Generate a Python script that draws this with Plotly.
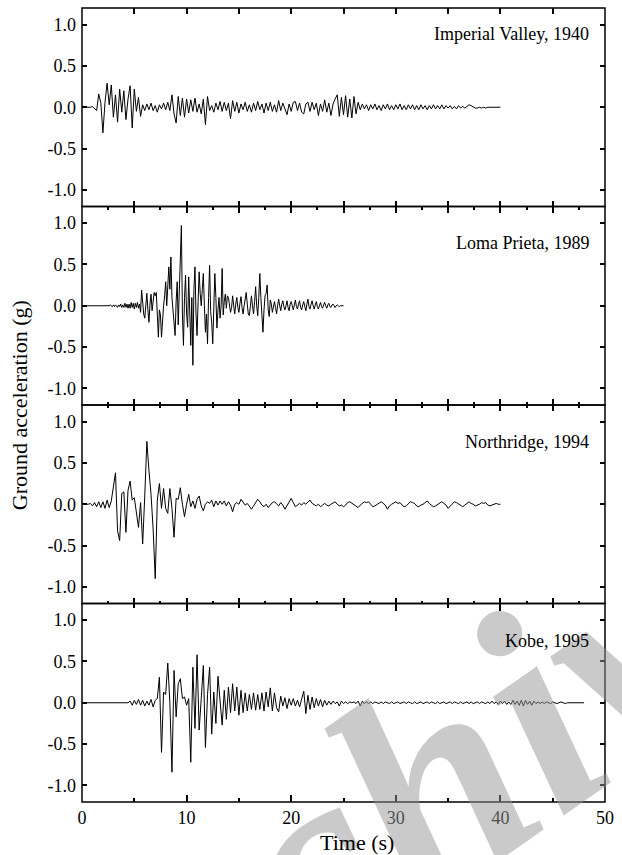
import numpy as np
import plotly.graph_objects as go
from plotly.subplots import make_subplots

# Ground-motion records (acceleration in g), uniformly sampled
IV_DT = 0.2
IV_ACC = [
    0, 0, 0, 0, 0, 0.01, -0.01, -0.04, 0.16, 0.05,
    -0.31, 0.06, 0.29, 0.03, 0.27, -0.12, 0.15, -0.18, 0.22, -0.06,
    0.2, -0.15, 0.1, 0.26, -0.25, 0.22, -0.05, 0.12, -0.11, 0.03,
    -0.04, 0.04, -0.03, 0.05, -0.04, 0.02, -0.06, 0.03, -0.02, 0.05,
    -0.03, 0.06, -0.04, 0.15, -0.08, -0.19, 0.13, -0.1, 0.11, -0.12,
    0.1, -0.07, 0.09, -0.05, 0.11, -0.06, 0.04, -0.08, 0.1, -0.21,
    0.13, -0.04, 0.02, -0.06, 0.05, -0.03, 0.07, -0.05, 0.06, -0.04,
    0.05, -0.14, 0.08, -0.05, 0.06, -0.07, 0.04, -0.03, 0.06, -0.05,
    0.03, -0.06, 0.05, -0.04, 0.07, -0.03, 0.04, -0.07, 0.05, -0.04,
    0.06, -0.05, 0.03, -0.06, 0.08, -0.04, 0.05, -0.03, -0.09, 0.04,
    -0.05, 0.06, 0.07, -0.04, 0.05, -0.06, -0.08, 0.04, 0.06, -0.05,
    0.06, -0.03, 0.05, -0.1, 0.04, -0.05, 0.09, -0.06, 0.05, -0.1,
    0.04, 0.1, 0.15, -0.11, 0.12, -0.09, 0.14, -0.12, 0.1, -0.13,
    0.13, -0.08, 0.06, -0.03, 0.04, -0.02, 0.03, -0.04, 0.03, -0.02,
    0.04, -0.03, 0.02, -0.04, 0.03, -0.02, 0.04, -0.03, 0.02, -0.03,
    0.03, -0.02, 0.04, -0.03, 0.02, -0.03, 0.03, -0.02, 0.03, -0.03,
    0.02, -0.03, 0.03, -0.02, 0.02, -0.03, 0.02, -0.02, 0.03, -0.02,
    0.02, -0.02, 0.03, -0.02, 0.02, -0.01, 0.02, -0.02, 0.01, -0.02,
    0.02, -0.01, 0.01, -0.01, 0.01, 0.03, 0.02, 0.0, -0.01, -0.01,
    0.0, -0.01, 0.0, -0.01, 0.0, 0.0, 0.0, 0.0, 0.0, 0.0,
    0.0,
]

LP_DT = 0.1
LP_ACC = [
    0, 0, 0, 0, 0, 0, 0, 0, 0, 0,
    0, 0, 0, 0, 0, 0, 0, 0, 0, 0,
    0, 0, 0, 0, 0, 0, 0, 0.01, 0, -0.01,
    0.01, -0.01, 0.01, 0, -0.02, 0.01, -0.01, 0.02, -0.02, 0.01,
    -0.02, 0.03, -0.02, 0.02, -0.03, 0.02, -0.03, 0.04, -0.02, 0.03,
    -0.04, 0.03, -0.02, 0.04, -0.03, 0.02, -0.08, 0.19, 0.02, -0.1,
    -0.15, 0.06, 0.15, -0.05, -0.2, 0.02, 0.14, -0.06, 0.05, 0.16,
    0.12, 0.16, -0.1, -0.38, -0.05, -0.11, -0.38, -0.1, 0.0, 0.12,
    0.29, 0.0, 0.2, 0.47, 0.2, 0.59, 0.1, -0.05, -0.25, -0.36,
    0.05, 0.29, -0.23, 0.2, 0.6, 0.97, -0.1, -0.48, 0.1, 0.37,
    -0.1, -0.26, 0.35, -0.1, -0.48, 0.1, -0.72, 0.2, 0.47, -0.1,
    -0.36, 0.05, 0.41, 0.15, 0.0, 0.2, 0.39, 0.0, -0.32, -0.1,
    -0.46, 0.1, 0.49, -0.07, -0.2, -0.46, 0.0, 0.39, 0.1, -0.27,
    -0.05, 0.1, -0.15, 0.0, 0.45, -0.11, 0.05, 0.14, -0.03, 0.12,
    0.1, 0.02, -0.08, -0.02, 0.12, 0.0, -0.1, 0.02, 0.1, -0.02,
    -0.08, 0.03, 0.11, -0.02, -0.1, 0.0, 0.08, 0.16, 0.02, -0.1,
    -0.12, 0.0, 0.12, 0.0, -0.1, 0.05, 0.23, 0.0, -0.12, 0.1,
    0.39, 0.1, -0.15, -0.32, -0.05, 0.12, 0.15, 0.25, -0.05, -0.13,
    0.07, 0.02, -0.08, 0.0, 0.05, -0.02, -0.1, 0.0, 0.08, 0.0,
    -0.06, 0.02, 0.06, -0.01, -0.05, 0.0, 0.06, -0.02, -0.06, 0.02,
    0.05, 0.0, -0.05, 0.01, 0.07, -0.01, -0.04, 0.02, 0.06, -0.02,
    -0.05, 0.01, 0.05, -0.01, -0.06, 0.02, 0.08, -0.01, -0.04, 0.02,
    0.06, 0.0, -0.04, 0.01, 0.05, -0.01, -0.04, 0.0, 0.04, -0.01,
    -0.03, 0.01, 0.04, 0.0, -0.03, 0.01, 0.03, -0.01, -0.02, 0.01,
    0.02, 0.0, -0.02, 0.0, 0.01, 0.0, -0.01, 0.0, 0.0, 0.0,
    0.0,
]

NR_DT = 0.2
NR_ACC = [
    0, 0, 0, 0, 0.01, -0.02, 0.02, -0.03, 0.03, -0.04,
    0.03, -0.05, 0.05, -0.04, 0.04, 0.24, 0.38, -0.32, -0.44, 0.13,
    0.15, -0.34, 0.17, 0.28, 0.05, 0.08, -0.1, -0.28, 0.02, -0.48,
    0.1, 0.76, 0.41, 0.12, -0.3, -0.9, 0.05, 0.25, -0.05, 0.19,
    -0.05, -0.11, 0.19, -0.05, -0.4, 0.07, 0.06, 0.2, 0.0, -0.15,
    0.0, 0.12, -0.03, 0.04, -0.05, 0.06, 0.1, -0.02, -0.08, 0.0,
    0.03, 0.01, 0.05, -0.03, 0.04, -0.01, 0.04, 0.0, 0.04, -0.02,
    0.03, -0.01, -0.09, 0.0, 0.02, 0.0, 0.06, 0.02, -0.01, 0.01,
    -0.03, -0.06, -0.02, 0.02, 0.06, 0.03, -0.01, -0.03, 0.0, -0.04,
    -0.01, 0.02, 0.03, 0.0, -0.02, 0.02, -0.01, -0.06, -0.02, 0.03,
    0.07, 0.02, -0.03, -0.01, 0.01, -0.01, 0.02, 0.0, 0.03, 0.05,
    0.01, -0.01, -0.02, 0.0, -0.03, -0.01, 0.01, -0.01, -0.02, 0.0,
    0.02, 0.03, 0.0, -0.02, -0.01, -0.03, -0.01, 0.02, 0.03, 0.01,
    -0.01, -0.02, -0.04, -0.01, 0.01, 0.03, 0.02, 0.03, 0.0, -0.03,
    -0.02, 0.0, 0.02, 0.03, 0.01, -0.01, -0.06, -0.02, 0.0, 0.02,
    0.03, 0.01, 0.02, -0.01, -0.03, -0.02, 0.0, 0.03, 0.02, 0.01,
    -0.02, -0.03, -0.01, 0.0, 0.02, 0.04, 0.01, -0.01, -0.03, -0.02,
    0.0, 0.02, 0.03, 0.01, -0.01, -0.05, -0.02, 0.0, 0.03, 0.02,
    0.0, -0.02, -0.03, -0.01, 0.01, 0.03, 0.01, 0.0, -0.02, -0.01,
    0.0, 0.02, 0.01, 0.02, -0.01, -0.02, -0.01, 0.0, 0.01, 0.0,
    0.0,
]

KB_DT = 0.2
KB_ACC = [
    0, 0, 0, 0, 0, 0, 0, 0, 0, 0,
    0, 0, 0, 0, 0, 0, 0, 0, 0, 0,
    0, 0, 0, 0.02, -0.03, 0.03, -0.02, 0.04, -0.03, 0.03,
    -0.04, 0.02, -0.03, 0.04, -0.05, 0.03, 0.05, 0.31, -0.6, 0.13,
    0.1, 0.48, 0.0, -0.84, 0.39, -0.17, 0.23, 0.29, 0.05, 0.07,
    -0.03, 0.05, -0.72, 0.43, -0.31, 0.58, -0.33, 0.05, 0.45, -0.54,
    0.1, 0.43, -0.38, 0.13, -0.25, 0.32, 0.05, -0.27, 0.15, -0.2,
    0.19, -0.12, 0.23, -0.1, 0.19, -0.15, 0.15, -0.12, 0.12, -0.1,
    0.1, -0.08, 0.12, -0.09, 0.1, -0.08, 0.12, -0.1, 0.13, -0.05,
    0.18, -0.1, 0.12, -0.06, -0.11, 0.08, -0.04, 0.06, -0.07, 0.05,
    -0.03, 0.05, -0.04, 0.03, -0.05, 0.06, 0.14, -0.13, 0.09, -0.08,
    0.07, -0.06, 0.05, -0.04, 0.04, -0.05, 0.03, -0.03, 0.02, -0.02,
    0.02, -0.01, 0.01, -0.04, 0.02, -0.01, 0.01, -0.01, 0.01, 0.0,
    0.01, -0.01, 0.02, -0.04, 0.02, -0.01, 0.01, -0.01, 0.01, -0.01,
    0.01, 0.0, -0.01, 0.01, -0.01, 0.01, 0.0, -0.01, 0.01, -0.01,
    0.0, 0.01, -0.01, 0.0, 0.01, -0.01, 0.01, 0.0, -0.01, 0.01,
    -0.01, 0.0, 0.01, -0.01, 0.0, 0.01, -0.01, 0.01, 0.0, -0.01,
    0.01, -0.01, 0.0, 0.01, -0.01, 0.0, 0.01, -0.01, 0.01, 0.0,
    -0.01, 0.01, -0.01, 0.0, 0.01, -0.01, 0.01, -0.01, 0.0, 0.01,
    -0.01, 0.01, 0.0, -0.01, 0.01, -0.01, 0.02, -0.01, 0.01, -0.02,
    0.02, -0.01, 0.02, -0.02, 0.01, -0.02, 0.03, -0.02, 0.02, -0.03,
    0.03, -0.04, 0.03, -0.02, 0.02, -0.03, 0.02, -0.01, 0.01, -0.01,
    0.01, -0.01, 0.01, 0.0, -0.01, 0.01, 0.0, -0.01, 0.0, 0.01,
    0.0, -0.01, 0.0, 0.0, 0.0, 0.0, 0.0, 0.0, 0.0, 0.0,
    0.0,
]

EVENT_LABELS = ["Imperial Valley, 1940", "Loma Prieta, 1989", "Northridge, 1994", "Kobe, 1995"]
LABEL_Y = [0.88, 0.76, 0.75, 0.75]
RECORDS = [(IV_DT, IV_ACC), (LP_DT, LP_ACC), (NR_DT, NR_ACC), (KB_DT, KB_ACC)]

Y_TICKS = [-1.0, -0.5, 0.0, 0.5, 1.0]
Y_TICKTEXT = ["-1.0", "-0.5", "0.0", "0.5", "1.0"]
X_TICKS = [0, 10, 20, 30, 40, 50]

FONT = "Liberation Serif"

fig = make_subplots(rows=4, cols=1, vertical_spacing=0)

for i, (dt, acc) in enumerate(RECORDS):
    t = np.round(np.arange(len(acc)) * dt, 3)
    fig.add_trace(
        go.Scatter(x=t, y=acc, mode="lines",
                   line=dict(color="black", width=1), showlegend=False),
        row=i + 1, col=1,
    )

# frames are drawn as shapes so neighbouring panels share one border line
axis_common = dict(showgrid=False, zeroline=False, showline=False, mirror="ticks",
                   ticks="inside", tickwidth=1.5, tickcolor="black",
                   tickfont=dict(family=FONT, size=18, color="black"))

shapes = []
for r in range(1, 5):
    fig.update_yaxes(range=[-1.2, 1.2], tickvals=Y_TICKS, ticktext=Y_TICKTEXT,
                     ticklen=5, ticklabelstandoff=5, row=r, col=1, **axis_common)
    if r < 4:
        fig.update_xaxes(range=[0, 50], tickmode="linear", tick0=0, dtick=5,
                         ticklen=6, showticklabels=False, row=r, col=1,
                         **axis_common)
        if r > 1:
            fig.update_xaxes(minor=dict(ticks="inside", ticklen=3, tickwidth=1.5,
                                        tickcolor="black", dtick=2.5, tick0=0),
                             row=r, col=1)
    else:
        fig.update_xaxes(range=[0, 50], tickvals=X_TICKS, ticklen=7,
                         ticklabelstandoff=3,
                         minor=dict(ticks="inside", ticklen=4, tickwidth=1.5,
                                    tickcolor="black", dtick=5, tick0=0),
                         row=r, col=1, **axis_common)
    sfx = "" if r == 1 else str(r)
    shapes.append(dict(type="rect", xref=f"x{sfx} domain", yref=f"y{sfx} domain",
                       x0=0, x1=1, y0=0, y1=1, layer="above",
                       line=dict(color="black", width=1.5)))

# faint repository stamp across the lower right, kept beneath the other texts
annotations = [dict(text="<b><i>Archive</i></b>", xref="paper", yref="paper",
                    x=0.575, y=-0.022, textangle=-35, showarrow=False,
                    xanchor="center", yanchor="middle",
                    font=dict(family=FONT, size=300, color="rgba(150,150,150,0.5)"))]

for i, (label, ly) in enumerate(zip(EVENT_LABELS, LABEL_Y)):
    sfx = "" if i == 0 else str(i + 1)
    annotations.append(dict(text=label, xref=f"x{sfx} domain", yref=f"y{sfx}",
                            x=0.974, y=ly, xanchor="right", yanchor="middle",
                            showarrow=False,
                            font=dict(family=FONT, size=18, color="black")))

annotations.append(dict(text="Ground acceleration (g)", xref="paper", yref="paper",
                        x=-0.12, y=0.5, textangle=-90, showarrow=False,
                        xanchor="center", yanchor="middle",
                        font=dict(family=FONT, size=22, color="black")))
annotations.append(dict(text="Time (s)", xref="paper", yref="paper",
                        x=0.526, y=-0.0516, showarrow=False,
                        xanchor="center", yanchor="middle",
                        font=dict(family=FONT, size=22, color="black")))

fig.update_layout(
    width=622, height=855,
    margin=dict(l=82, r=10, t=8, b=53),
    font=dict(family=FONT, size=18, color="black"),
    plot_bgcolor="white", paper_bgcolor="white",
    shapes=shapes,
    annotations=annotations,
)

fig.write_html("out.html")
